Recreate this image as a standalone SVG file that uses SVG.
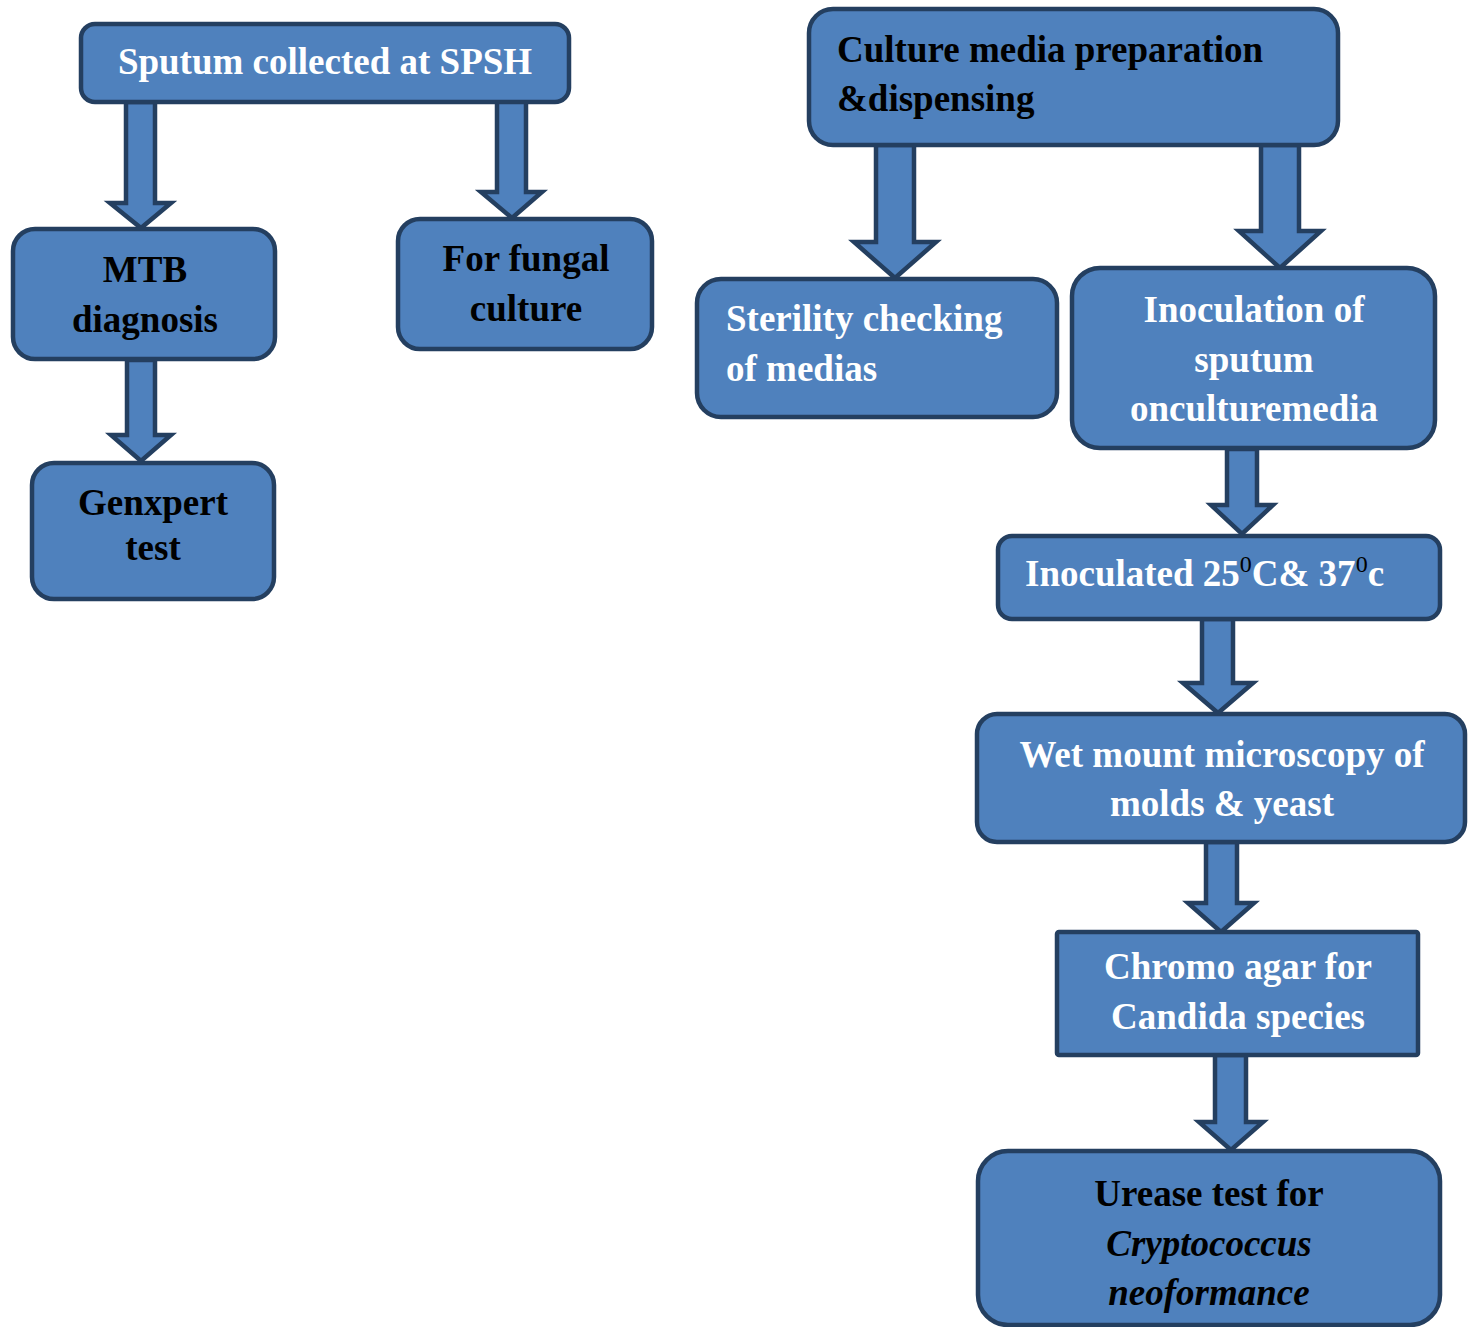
<svg xmlns="http://www.w3.org/2000/svg" width="1470" height="1327" viewBox="0 0 1470 1327">
<style>
.box{fill:#4F81BD;stroke:#243F60;stroke-width:4.5}
.arr{fill:#4F81BD;stroke:#243F60;stroke-width:4.5;stroke-linejoin:miter}
text{font-family:"Liberation Serif","Times New Roman",serif;font-weight:bold;font-size:37px}
.w{fill:#FFFFFF}
.k{fill:#000000}
.c{text-anchor:middle}
.i{font-style:italic}
.sup{font-size:24px;font-weight:normal;fill:#000000}
</style>
<rect width="1470" height="1327" fill="#FFFFFF"/>
<g id="connectors">
<polygon class="arr" points="126,102 155,102 155,203 171,203 141,228 110,203 126,203"/>
<polygon class="arr" points="497,100 526,100 526,192 542,192 512,218 481,192 497,192"/>
<polygon class="arr" points="127,360 155,360 155,435 171,435 141,461 111,435 127,435"/>
<polygon class="arr" points="876,145 914,145 914,242 936,242 895,278 854,242 876,242"/>
<polygon class="arr" points="1261,145 1299,145 1299,231 1321,231 1280,268 1239,231 1261,231"/>
<polygon class="arr" points="1227,449 1257,449 1257,505 1273,505 1242,534 1211,505 1227,505"/>
<polygon class="arr" points="1202,619 1233,619 1233,683 1253,683 1218,713 1183,683 1202,683"/>
<polygon class="arr" points="1206,842 1237,842 1237,903 1254,903 1221,932 1188,903 1206,903"/>
<polygon class="arr" points="1215,1055 1246,1055 1246,1122 1263,1122 1231,1150 1199,1122 1215,1122"/>
</g>
<g id="sputum">
<rect class="box" x="81" y="24" width="488" height="78" rx="14"/>
<text class="w c" x="325" y="74">Sputum collected at SPSH</text>
</g>
<g id="mtb">
<rect class="box" x="13" y="229" width="262" height="130" rx="22"/>
<text class="k c" x="145" y="282">MTB</text>
<text class="k c" x="145" y="332">diagnosis</text>
</g>
<g id="fungal">
<rect class="box" x="398" y="219" width="254" height="130" rx="22"/>
<text class="k c" x="526" y="271">For fungal</text>
<text class="k c" x="526" y="321">culture</text>
</g>
<g id="genxpert">
<rect class="box" x="32" y="463" width="242" height="136" rx="22"/>
<text class="k c" x="153" y="515">Genxpert</text>
<text class="k c" x="153" y="560">test</text>
</g>
<g id="culture">
<rect class="box" x="809" y="9" width="529" height="136" rx="24"/>
<text class="k" x="837" y="62">Culture media preparation</text>
<text class="k" x="837" y="111">&amp;dispensing</text>
</g>
<g id="sterility">
<rect class="box" x="697" y="279" width="360" height="138" rx="24"/>
<text class="w" x="726" y="331">Sterility checking</text>
<text class="w" x="726" y="381">of medias</text>
</g>
<g id="inoculation">
<rect class="box" x="1072" y="268" width="363" height="180" rx="28"/>
<text class="w c" x="1254" y="322">Inoculation of</text>
<text class="w c" x="1254" y="372">sputum</text>
<text class="w c" x="1254" y="421">onculturemedia</text>
</g>
<g id="inoculated">
<rect class="box" x="998" y="536" width="442" height="83" rx="14"/>
<text class="w" x="1025" y="586">Inoculated 25<tspan class="sup" dy="-14">0</tspan><tspan dy="14">C&amp; 37</tspan><tspan class="sup" dy="-14">0</tspan><tspan dy="14">c</tspan></text>
</g>
<g id="wetmount">
<rect class="box" x="977" y="714" width="488" height="128" rx="20"/>
<text class="w c" x="1222" y="767">Wet mount microscopy of</text>
<text class="w c" x="1222" y="816">molds &amp; yeast</text>
</g>
<g id="chromo">
<rect class="box" x="1057" y="932" width="361" height="123" rx="2"/>
<text class="w c" x="1238" y="979">Chromo agar for</text>
<text class="w c" x="1238" y="1029">Candida species</text>
</g>
<g id="urease">
<rect class="box" x="978" y="1151" width="462" height="174" rx="30"/>
<text class="k c" x="1209" y="1206">Urease test for</text>
<text class="k c i" x="1209" y="1256">Cryptococcus</text>
<text class="k c i" x="1209" y="1305">neoformance</text>
</g>
</svg>
